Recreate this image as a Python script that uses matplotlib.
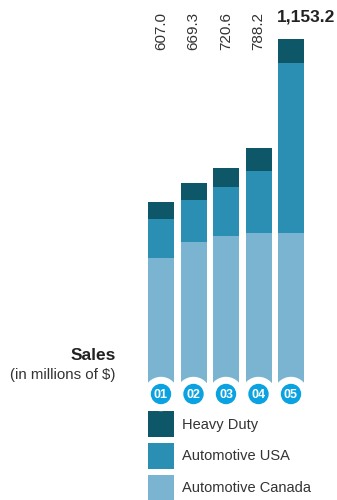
import matplotlib.pyplot as plt
from matplotlib.patches import Circle, Rectangle

plt.rcParams['font.family'] = ['Liberation Sans', 'DejaVu Sans']

# ---------------------------------- data -------------------------------------
years = ['01', '02', '03', '04', '05']
canada = [420.0, 474.0, 491.0, 504.0, 503.0]
usa = [131.0, 138.0, 165.0, 205.0, 568.0]
heavy = [56.0, 57.3, 64.6, 79.2, 82.2]
totals = [607.0, 669.3, 720.6, 788.2, 1153.2]
total_labels = ['607.0', '669.3', '720.6', '788.2', '1,153.2']
series_names = ['Heavy Duty', 'Automotive USA', 'Automotive Canada']

c_heavy = '#0e5769'
c_usa = '#2b8fb4'
c_canada = '#7ab4d0'
c_badge = '#0aa2e0'
c_text = '#333333'

W, H = 337, 500
fig = plt.figure(figsize=(W / 100, H / 100), dpi=100)

# bar axes: 32.5 px per slot, baseline 383 px from top
slot = 32.5
x_left = 161 - slot / 2
base = 383
px_per_unit = 0.2985
ax = fig.add_axes([x_left / W, (H - base) / H, 5 * slot / W, base / H])
ax.set_xlim(-0.5, 4.5)
ax.set_ylim(0, base / px_per_unit)
ax.axis('off')

x = range(len(years))
bw = 26 / slot
ax.bar(x, canada, width=bw, color=c_canada, linewidth=0)
ax.bar(x, usa, width=bw, bottom=canada, color=c_usa, linewidth=0)
bottom_hd = [a + b for a, b in zip(canada, usa)]
ax.bar(x, heavy, width=bw, bottom=bottom_hd, color=c_heavy, linewidth=0)

# totals: rotated for the first four, bold horizontal for the last
for i, lab in enumerate(total_labels[:-1]):
    ax.text(i, (base - 50) / px_per_unit, lab, rotation=90, ha='center',
            va='bottom', fontsize=11, color=c_text)

# overlay in pixel coords for badges, legend and titles
ov = fig.add_axes([0, 0, 1, 1])
ov.set_xlim(0, W)
ov.set_ylim(H, 0)
ov.axis('off')
ov.patch.set_alpha(0)

ov.text(277, 17, total_labels[-1], ha='left', va='center', fontsize=12.5,
        fontweight='bold', color='#222222')

for i, yr in enumerate(years):
    cx = 161 + i * slot
    ov.add_patch(Circle((cx, 394), 16.5, color='white', zorder=2))
    ov.add_patch(Circle((cx, 394), 9.5, color=c_badge, zorder=3))
    ov.text(cx, 394.5, yr, ha='center', va='center', fontsize=9,
            fontweight='bold', color='white', zorder=4)

ov.text(116, 355, 'Sales', ha='right', va='center', fontsize=12.5,
        fontweight='bold', color='#222222')
ov.text(116, 375.5, '(in millions of $)', ha='right', va='center',
        fontsize=10.8, color=c_text)

for k, (name, col) in enumerate(zip(series_names, [c_heavy, c_usa, c_canada])):
    y0 = 411 + k * 32
    ov.add_patch(Rectangle((148, y0), 26, 26, color=col, linewidth=0))
    ov.text(182, y0 + 13.5, name, ha='left', va='center', fontsize=10.5,
            color=c_text)

fig.savefig('out.png', dpi=100)
